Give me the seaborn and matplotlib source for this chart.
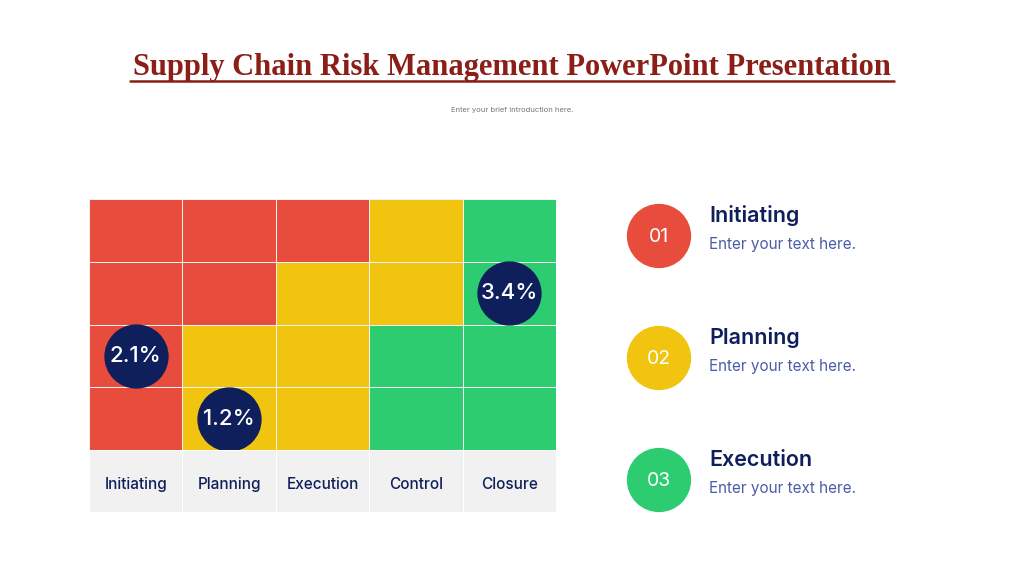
import numpy as np
import pandas as pd
import matplotlib
matplotlib.use("Agg")
import matplotlib.pyplot as plt
from matplotlib.colors import ListedColormap
from matplotlib.lines import Line2D
import seaborn as sns

# --- DATA ---
phases = ["Initiating", "Planning", "Execution", "Control", "Closure"]
# risk level per cell, top row first: 0 = low (green), 1 = medium (yellow), 2 = high (red)
row1 = [2, 2, 2, 1, 0]
row2 = [2, 2, 1, 1, 0]
row3 = [2, 1, 1, 0, 0]
row4 = [2, 1, 1, 0, 0]
badge_labels = ["2.1%", "1.2%", "3.4%"]
badge_cols = ["Initiating", "Planning", "Closure"]
badge_rows = [2, 3, 1]
legend_nums = ["01", "02", "03"]
legend_titles = ["Initiating", "Planning", "Execution"]
legend_texts = ["Enter your text here."] * 3

# --- STYLE ---
sns.set_theme(style="white")
plt.rcParams["font.family"] = ["Inter", "DejaVu Sans"]

red, yellow, green = "#E74C3C", "#F1C40F", "#2ECC71"
navy = "#0E1F5B"
risk_cmap = ListedColormap([green, yellow, red])

W, H = 1024, 576
fig = plt.figure(figsize=(W / 100, H / 100), dpi=100)
fig.patch.set_facecolor("white")

def px_axes(x0, y0, x1, y1):
    return fig.add_axes([x0 / W, 1 - y1 / H, (x1 - x0) / W, (y1 - y0) / H])

# heatmap grid
df = pd.DataFrame([row1, row2, row3, row4], columns=phases)
ax = px_axes(89, 199, 556, 450)
sns.heatmap(df, ax=ax, cmap=risk_cmap, vmin=-0.5, vmax=2.5, cbar=False,
            linewidths=0.6, linecolor="#F2F2F2", xticklabels=False, yticklabels=False)
ax.set_xlabel("")
ax.set_ylabel("")

# badges on the grid
bx = [phases.index(c) + 0.5 for c in badge_cols]
by = [r + 0.5 for r in badge_rows]
ax.scatter(bx, by, s=2050, color=navy, zorder=5, clip_on=False)
for x, y, t in zip(bx, by, badge_labels):
    ax.text(x, y, t, color="white", fontsize=16, fontweight="medium",
            ha="center", va="center", zorder=6)

# label row
lab = px_axes(89, 450, 556, 512)
sns.heatmap(pd.DataFrame([[0] * len(phases)], columns=phases), ax=lab,
            cmap=ListedColormap(["#F1F1F1"]), cbar=False, linewidths=0.6,
            linecolor="white", xticklabels=False, yticklabels=False)
for i, p in enumerate(phases):
    lab.text(i + 0.5, 0.55, p, color=navy, fontsize=11, fontweight="medium",
             ha="center", va="center")
lab.set_xlabel("")
lab.set_ylabel("")

# title
fig.text(512 / W, 1 - 67 / H, "Supply Chain Risk Management PowerPoint Presentation",
         family=["Liberation Serif", "DejaVu Serif"], fontweight="bold",
         fontsize=22, color="#8B1E16", ha="center", va="center")
fig.add_artist(Line2D([130 / W, 894 / W], [1 - 81 / H, 1 - 81 / H],
                      color="#8B1E16", lw=1.8, transform=fig.transFigure))
fig.text(512 / W, 1 - 110 / H, "Enter your brief introduction here.",
         fontsize=5.5, color="#777777", ha="center", va="center")

# legend list on the right
leg = px_axes(600, 190, 1000, 520)
leg.set_xlim(600, 1000)
leg.set_ylim(520, 190)
leg.axis("off")
leg_y = [236, 358, 480]
leg_colors = [red, yellow, green]
leg.scatter([659] * 3, leg_y, s=2050, c=leg_colors, zorder=3)
for y, n, t, s in zip(leg_y, legend_nums, legend_titles, legend_texts):
    leg.text(659, y + 1, n, color="white", fontsize=14, ha="center", va="center")
    leg.text(709, y - 20, t, color=navy, fontsize=15.5, fontweight="semibold",
             ha="left", va="center")
    leg.text(709, y + 8, s, color="#4A5DA8", fontsize=11, ha="left", va="center")

fig.savefig("out.png", dpi=100, facecolor="white")
